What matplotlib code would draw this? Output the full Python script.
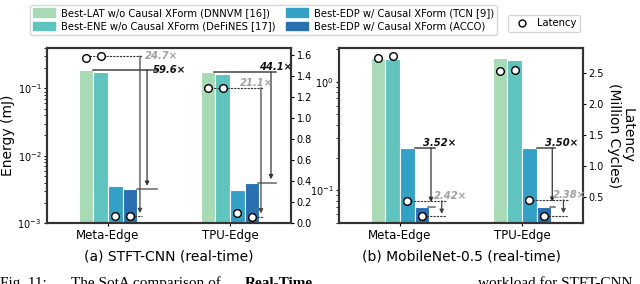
import matplotlib
matplotlib.use("Agg")
import matplotlib.pyplot as plt
import numpy as np
from matplotlib.patches import Patch
from matplotlib.lines import Line2D

# ---- data ----
platforms = ["Meta-Edge", "TPU-Edge"]
methods = ["Best-LAT w/o Causal XForm (DNNVM [16])",
           "Best-ENE w/o Causal XForm (DeFiNES [17])",
           "Best-EDP w/ Causal XForm (TCN [9])",
           "Best-EDP w/ Causal XForm (ACCO)"]
colors = ["#a8dab5", "#5fc4bd", "#33a1c6", "#2a6fb0"]

# (a) STFT-CNN: energy (mJ) per method, rows = platform
stft_energy = [[0.19, 0.176, 0.00357, 0.00319],
               [0.176, 0.164, 0.0031, 0.00399]]
stft_latency = [[1.57, 1.59, 0.067, 0.064],
                [1.29, 1.29, 0.099, 0.061]]
stft_e_ratio = ["59.6×", "44.1×"]
stft_l_ratio = ["24.7×", "21.1×"]

# (b) MobileNet-0.5
mbn_energy = [[1.64, 1.60, 0.245, 0.0696],
              [1.66, 1.58, 0.245, 0.070]]
mbn_latency = [[2.75, 2.78, 0.43, 0.178],
               [2.53, 2.56, 0.446, 0.187]]
mbn_e_ratio = ["3.52×", "3.50×"]
mbn_l_ratio = ["2.42×", "2.38×"]

plt.rcParams["font.family"] = "DejaVu Sans"
SPINE = "#333333"
W = 0.12
offs = np.array([-1.5, -0.5, 0.5, 1.5]) * W


def style_axes(ax):
    for s in ax.spines.values():
        s.set_color(SPINE)
        s.set_linewidth(1.5)
    ax.tick_params(labelsize=7, length=2.5, width=0.8, pad=1.5)


def draw_panel(ax, energy, latency, ylim_e, ylim_l, lat_ticks):
    ax2 = ax.twinx()
    ax.set_yscale("log")
    x = np.arange(len(platforms))
    for i in range(len(methods)):
        vals = [energy[p][i] for p in range(len(platforms))]
        ax.bar(x + offs[i], vals, W, color=colors[i], edgecolor="white",
               linewidth=0.8, label=methods[i])
    for p in range(len(platforms)):
        ax2.plot(x[p] + offs, latency[p], "o", ms=5.5, mfc="white",
                 mec="black", mew=1.0, ls="none", zorder=5)
    ax.set_xlim(-0.5, 1.5)
    ax.set_ylim(*ylim_e)
    ax2.set_ylim(*ylim_l)
    ax2.set_yticks(lat_ticks)
    ax.set_xticks(x)
    ax.set_xticklabels(platforms, fontsize=8.5)
    style_axes(ax)
    style_axes(ax2)
    ax.tick_params(axis="x", labelsize=8.5)
    return ax2


def arrow_down(ax, xv, y0, y1, color):
    ax.annotate("", xy=(xv, y1), xytext=(xv, y0),
                arrowprops=dict(arrowstyle="-|>", color=color, lw=0.9,
                                mutation_scale=6, shrinkA=0, shrinkB=0))


def energy_note(ax, y_hi, y_lo, x_start, x_v, x_end, x_lo, label, tx, ty_mode):
    ax.plot([x_start, x_end], [y_hi, y_hi], color="#444444", lw=1.1)
    ax.plot([x_lo, x_end], [y_lo, y_lo], color="#666666", lw=1.1)
    arrow_down(ax, x_v, y_hi, y_lo * 1.12, "#333333")
    ax.text(tx, y_hi, label, fontsize=7.2, fontweight="bold", style="italic",
            color="#111111", ha="left", va=ty_mode)


def latency_note(ax2, y_hi, y_lo, x_start, x_v, x_end, x_lo, label, tx, ty_mode, gap):
    ax2.plot([x_start, x_end], [y_hi, y_hi], color="#333333", lw=0.8, ls=(0, (2, 1)))
    ax2.plot([x_lo, x_end], [y_lo, y_lo], color="#333333", lw=0.8, ls=(0, (2, 1)))
    arrow_down(ax2, x_v, y_hi, y_lo + gap, "#444444")
    ax2.text(tx, y_hi, label, fontsize=7.2, fontweight="bold", style="italic",
             color="#a0a0a0", ha="left", va=ty_mode)


fig = plt.figure(figsize=(6.4, 2.84), dpi=100)
ax_a = fig.add_axes([47 / 640, 61 / 284, 244 / 640, 175 / 284])
ax_b = fig.add_axes([339 / 640, 61 / 284, 244 / 640, 175 / 284])

ax_a2 = draw_panel(ax_a, stft_energy, stft_latency, (1e-3, 0.4), (0, 1.667),
                   np.arange(0, 1.61, 0.2))
ax_b2 = draw_panel(ax_b, mbn_energy, mbn_latency, (0.05, 2.04), (0.07, 2.91),
                   [0.5, 1.0, 1.5, 2.0, 2.5])

# (a) annotations
e, l = stft_energy, stft_latency
energy_note(ax_a, e[0][0], e[0][3], -0.12, 0.32, 0.40, 0.24, stft_e_ratio[0], 0.37, "center")
latency_note(ax_a2, l[0][1], l[0][3], -0.18, 0.262, 0.276, 0.19, stft_l_ratio[0], 0.30, "center", 0.03)
energy_note(ax_a, e[1][0], e[1][3], 0.87, 1.336, 1.377, 1.23, stft_e_ratio[1], 1.238, "bottom")
latency_note(ax_a2, l[1][0], l[1][3], 0.81, 1.254, 1.27, 1.22, stft_l_ratio[1], 1.08, "bottom", 0.03)

# (b) annotations
e, l = mbn_energy, mbn_latency
energy_note(ax_b, e[0][2], e[0][3], 0.12, 0.254, 0.287, 0.232, mbn_e_ratio[0], 0.19, "bottom")
latency_note(ax_b2, l[0][2], l[0][3], 0.06, 0.342, 0.377, 0.19, mbn_l_ratio[0], 0.28, "bottom", 0.04)
energy_note(ax_b, e[1][2], e[1][3], 1.12, 1.248, 1.27, 1.232, mbn_e_ratio[1], 1.19, "bottom")
latency_note(ax_b2, l[1][2], l[1][3], 1.06, 1.34, 1.377, 1.19, mbn_l_ratio[1], 1.25, "bottom", 0.04)

ax_a.set_ylabel("Energy (mJ)", fontsize=10, labelpad=2)
ax_b2.set_ylabel("Latency\n(Million Cycles)", fontsize=10, rotation=270,
                 labelpad=22, linespacing=1.0)

fig.text((47 + 291) / 2 / 640, 1 - 256 / 284, "(a) STFT-CNN (real-time)",
         ha="center", va="center", fontsize=10)
fig.text((339 + 583) / 2 / 640, 1 - 256 / 284, "(b) MobileNet-0.5 (real-time)",
         ha="center", va="center", fontsize=10)

# legends
handles = [Patch(color=c, label=m) for c, m in zip(colors, methods)]
fig.legend(handles=handles, ncol=2, loc="upper left",
           bbox_to_anchor=(25 / 640, 1.0), fontsize=7.2, frameon=True,
           handlelength=2.2, handleheight=0.9, columnspacing=1.0,
           handletextpad=0.6, borderpad=0.3, labelspacing=0.35,
           edgecolor="#cccccc", fancybox=True)
lat_handle = [Line2D([], [], marker="o", ls="none", mfc="white", mec="black",
                     ms=5, label="Latency")]
fig.legend(handles=lat_handle, loc="lower left",
           bbox_to_anchor=(503 / 640, 1 - 37 / 284), fontsize=7.2,
           frameon=True, handletextpad=0.6, borderpad=0.35,
           edgecolor="#cccccc", fancybox=True)

# cropped figure caption along the bottom edge
cap = dict(fontsize=11, family="Liberation Serif", va="baseline")
fig.text(0.0, -3 / 284, "Fig. 11:", **cap)
fig.text(71 / 640, -3 / 284, "The SotA comparison of", **cap)
fig.text(245 / 640, -3 / 284, "Real-Time", fontweight="bold", **cap)
fig.text(478 / 640, -3 / 284, "workload for STFT-CNN", **cap)

fig.savefig("out.png", dpi=100)
